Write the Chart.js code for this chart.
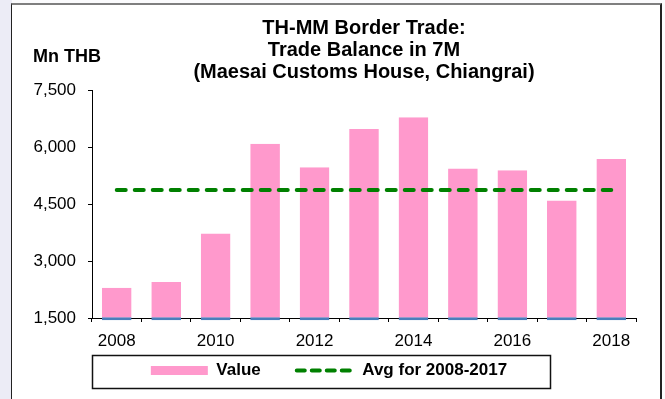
<!DOCTYPE html>
<html>
<head>
<meta charset="utf-8">
<script src="https://cdn.jsdelivr.net/npm/chart.js@4.4.1/dist/chart.umd.min.js"></script>
<style>
  html, body { margin: 0; padding: 0; }
  body { width: 665px; height: 399px; background: #fbfbfd; position: relative; overflow: hidden; }
  .strip { position: absolute; left: 0; top: 0; width: 12px; height: 399px; background: #ececf6; }
  .frame { position: absolute; left: 11px; top: 3px; width: 648px; height: 410px; background: #fff;
           border-top: 2px solid #7f7f7f; border-left: 1px solid #222; border-right: 2px solid #222; }
  #tradeChart { position: absolute; left: 0; top: 0; }
</style>
</head>
<body>
<div class="strip"></div>
<div class="frame"></div>
<canvas id="tradeChart" width="665" height="399"></canvas>
<script>
  const years = ['2008', '2009', '2010', '2011', '2012', '2013', '2014', '2015', '2016', '2017', '2018']
  const tradeBalance = [2300, 2450, 3730, 6100, 5480, 6490, 6800, 5450, 5400, 4600, 5700]
  const avgBalance = [4880, 4880, 4880, 4880, 4880, 4880, 4880, 4880, 4880, 4880, 4880]
  const yTicks = [1500, 3000, 4500, 6000, 7500]

  const PINK = '#FF99CC'
  const BLUE = '#4A7EBB'
  const GREEN = '#008000'
  const FONT = '"Liberation Sans", Arial, sans-serif'

  Chart.defaults.font.family = FONT
  Chart.defaults.color = '#000'

  // "Mn THB" unit label, sits above the value axis
  const unitLabel = {
    id: 'unitLabel',
    afterDraw(chart) {
      const { ctx, chartArea } = chart
      ctx.save()
      ctx.font = 'bold 18px ' + FONT
      ctx.fillStyle = '#000'
      ctx.textAlign = 'left'
      ctx.textBaseline = 'alphabetic'
      ctx.fillText('Mn THB', chartArea.left - 59, chartArea.top - 29)
      ctx.restore()
    },
  }

  // legend row sits up against the axis labels; stretch its box upward by
  // its padding (so nothing is clipped) and draw an outline round the row
  const legendFrame = {
    id: 'legendFrame',
    afterLayout(chart) {
      const lg = chart.legend
      lg.top -= lg.options.labels.padding
    },
    afterDraw(chart) {
      const hb = chart.legend.legendHitBoxes[0]
      if (!hb) return
      const cy = hb.top + hb.height / 2
      const { ctx, chartArea } = chart
      ctx.save()
      ctx.strokeStyle = '#111'
      ctx.lineWidth = 1.5
      ctx.strokeRect(chartArea.left + 0.5, Math.round(cy - 16) + 0.5, 458, 33)
      ctx.restore()
    },
  }

  new Chart(document.getElementById('tradeChart').getContext('2d'), {
    type: 'bar',
    data: {
      labels: years,
      datasets: [
        {
          label: 'Value',
          data: tradeBalance,
          base: 1440,
          clip: false,
          backgroundColor: PINK,
          borderColor: BLUE,
          borderWidth: { top: 0, right: 0, bottom: 3, left: 0 },
          borderSkipped: false,
          categoryPercentage: 1,
          barPercentage: 0.6,
          order: 1,
        },
        {
          type: 'line',
          label: 'Avg for 2008-2017',
          data: avgBalance,
          borderColor: GREEN,
          backgroundColor: GREEN,
          borderWidth: 4,
          borderDash: [9, 9],
          borderCapStyle: 'round',
          pointRadius: 0,
          fill: false,
          order: 0,
        },
      ],
    },
    options: {
      responsive: false,
      animation: false,
      layout: { padding: { left: 22, right: 29, top: 0, bottom: 7 } },
      plugins: {
        title: {
          display: true,
          fullSize: false,
          text: ['TH-MM Border Trade:', 'Trade Balance in 7M', '(Maesai Customs House, Chiangrai)'],
          color: '#000',
          font: { size: 20, weight: 'bold', lineHeight: 1.08 },
          padding: { top: 18, bottom: 8 },
        },
        legend: {
          position: 'bottom',
          maxHeight: 30,
          labels: {
            usePointStyle: true,
            pointStyleWidth: 57,
            boxHeight: 9,
            padding: 36,
            color: '#000',
            font: { size: 17, weight: 'bold' },
            generateLabels: () => [
              { text: 'Value', datasetIndex: 0, fillStyle: PINK, strokeStyle: PINK, lineWidth: 0, pointStyle: 'rect' },
              {
                text: 'Avg for 2008-2017', datasetIndex: 1, fillStyle: GREEN, strokeStyle: GREEN,
                lineWidth: 4, lineDash: [8, 7], lineCap: 'round', pointStyle: 'line',
              },
            ],
          },
        },
        tooltip: { enabled: false },
      },
      scales: {
        x: {
          offset: true,
          afterFit: (scale) => { scale.height = 44 },
          grid: { display: true, drawOnChartArea: false, drawTicks: true, tickLength: 4, color: '#000', offset: true },
          border: { color: '#000', width: 1 },
          ticks: {
            autoSkip: false,
            maxRotation: 0,
            padding: 9,
            font: { size: 17 },
            callback: (v, i) => (i % 2 === 0 ? years[i] : ''),
          },
        },
        y: {
          min: yTicks[0],
          max: yTicks[yTicks.length - 1],
          afterFit: (scale) => { scale.width = 70 },
          grid: { display: true, drawOnChartArea: false, drawTicks: true, tickLength: 4, color: '#000' },
          border: { color: '#000', width: 1 },
          ticks: {
            stepSize: yTicks[1] - yTicks[0],
            padding: 12,
            font: { size: 17 },
            callback: (v) => v.toLocaleString('en-US'),
          },
        },
      },
    },
    plugins: [unitLabel, legendFrame],
  })
</script>
</body>
</html>
